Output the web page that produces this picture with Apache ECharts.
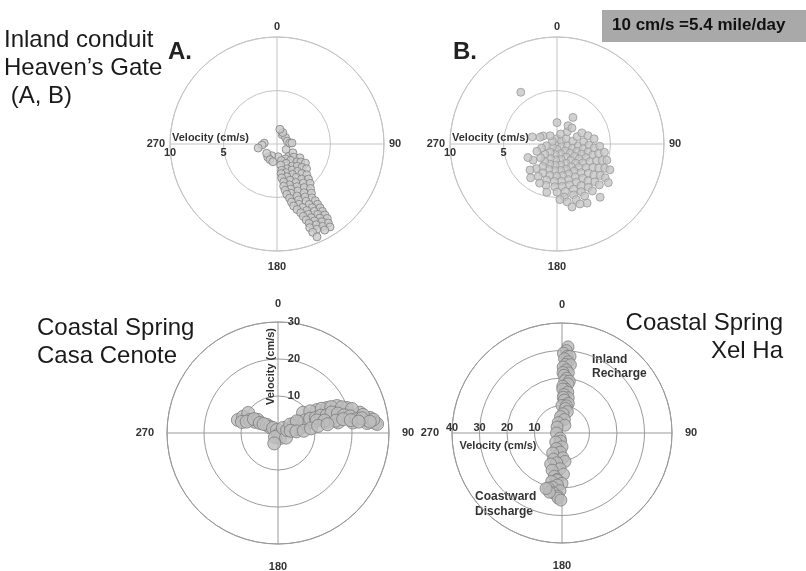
<!DOCTYPE html>
<html>
<head>
<meta charset="utf-8">
<script src="https://cdn.jsdelivr.net/npm/echarts@6/dist/echarts.min.js"></script>
<style>
  html, body { margin: 0; padding: 0; background: #fff; }
  #chart { width: 806px; height: 571px; }
</style>
</head>
<body>
<div id="chart"></div>
<script>
// [velocity cm/s, direction deg]
const heavensGateA = [
  [1.0, 29], [1.0, 53], [1.0, 75], [1.0, 121],
  [1.2, 27], [1.2, 86], [1.2, 175], [1.2, 274], [1.2, 204],
  [1.4, 11], [1.4, 86], [1.4, 266], [1.5, 215], [1.3, 228],
  [1.6, 204], [1.6, 135], [1.6, 150], [1.6, 165], [1.7, 193], [1.7, 119], [1.8, 258],
  [2.0, 128], [2.0, 140], [2.0, 155], [2.0, 170],
  [2.5, 121], [2.5, 132], [2.5, 145], [2.5, 158], [2.5, 170],
  [2.8, 127], [2.8, 138], [2.8, 150], [2.8, 163], [2.8, 172],
  [3.2, 124], [3.2, 133], [3.2, 143], [3.2, 153], [3.2, 163], [3.2, 172],
  [3.6, 130], [3.6, 140], [3.6, 150], [3.6, 160], [3.6, 170],
  [4.0, 136], [4.0, 145], [4.0, 154], [4.0, 163], [4.0, 171],
  [4.4, 138], [4.4, 146], [4.4, 155], [4.4, 163], [4.4, 170],
  [4.8, 140], [4.8, 148], [4.8, 156], [4.8, 164], [4.8, 169],
  [5.2, 143], [5.2, 151], [5.2, 159], [5.2, 167],
  [5.6, 145], [5.6, 152], [5.6, 159], [5.6, 166],
  [6.0, 147], [6.0, 153], [6.0, 160], [6.0, 165],
  [6.4, 146], [6.4, 152], [6.4, 158], [6.4, 163],
  [6.8, 146], [6.8, 151], [6.8, 156], [6.8, 161],
  [7.2, 146], [7.2, 151], [7.2, 156], [7.2, 160],
  [7.6, 146], [7.6, 150], [7.6, 155], [7.6, 159],
  [8.0, 146], [8.0, 150], [8.0, 154], [8.0, 158],
  [8.4, 146], [8.4, 150], [8.4, 154], [8.4, 158.6],
  [8.8, 147], [8.8, 151], [8.8, 155], [8.9, 158],
  [9.2, 147.4], [9.2, 151], [9.45, 156.7]
];

const heavensGateB = [
  [0.5, 0], [0.5, 60], [0.5, 120], [0.5, 180], [0.5, 240], [0.5, 300],
  [1.0, 20], [1.0, 60], [1.0, 100], [1.0, 130], [1.0, 160], [1.0, 190], [1.0, 220], [1.0, 260], [1.0, 320],
  [1.5, 40], [1.5, 80], [1.5, 105], [1.5, 125], [1.5, 145], [1.5, 165], [1.5, 185], [1.5, 205], [1.5, 230], [1.5, 255], [1.5, 300],
  [2.0, 0], [2.0, 31], [2.05, 43], [2.0, 70], [2.0, 95], [2.0, 110], [2.0, 125], [2.0, 140], [2.0, 155], [2.0, 170],
  [2.0, 185], [2.0, 200], [2.0, 215], [2.0, 230], [2.0, 250], [1.7, 292],
  [2.55, 66], [2.5, 85], [2.5, 100], [2.5, 112], [2.5, 124], [2.5, 136], [2.5, 148], [2.5, 160], [2.5, 172],
  [2.5, 185], [2.5, 198], [2.5, 212], [2.7, 236], [2.4, 286],
  [2.9, 31], [3.0, 75], [3.0, 92], [3.0, 104], [3.0, 115], [3.0, 126], [3.0, 137], [3.0, 148], [3.0, 159],
  [3.0, 170], [3.0, 181], [3.0, 193], [3.0, 206], [3.0, 220], [3.0, 245],
  [3.5, 82], [3.5, 96], [3.5, 107], [3.5, 118], [3.5, 129], [3.5, 140], [3.5, 151], [3.5, 162], [3.5, 173],
  [3.5, 184], [3.5, 196], [3.5, 210], [3.5, 226],
  [4.0, 93], [4.0, 103], [4.0, 113], [4.0, 123], [4.0, 133], [4.0, 143], [4.0, 153], [4.0, 163], [4.0, 173],
  [4.0, 183], [4.0, 195], [4.0, 204], [4.0, 218],
  [4.5, 100], [4.5, 110], [4.5, 120], [4.5, 130], [4.5, 140], [4.5, 150], [4.5, 160], [4.5, 170], [4.5, 180], [4.6, 192],
  [4.9, 108], [5.0, 117], [5.0, 126], [5.0, 135], [5.0, 144], [5.0, 153], [5.0, 162], [5.0, 172], [5.2, 177],
  [5.5, 116], [5.5, 125], [5.5, 134], [5.5, 143], [5.5, 152], [5.5, 161], [5.5, 170],
  [6.0, 127], [6.4, 141], [6.2, 153], [6.0, 159], [6.05, 166.6],
  [5.9, 325]
];

const casaCenote = [
  [11.4, 288], [10.4, 295], [9.7, 304], [10.2, 287], [8.3, 295], [6.9, 296], [6.5, 303],
  [9.0, 290], [7.5, 300], [5.6, 299], [3.7, 306], [2.7, 307], [4.6, 302],
  [1.9, 315], [0.85, 342], [0.54, 180], [1.45, 158], [1.35, 217], [1.9, 45], [2.5, 120], [3.0, 200],
  [2.6, 72], [4.4, 68], [6.1, 77], [7.3, 68], [8.5, 72], [9.9, 73], [12.7, 74], [13.6, 77],
  [15.5, 74], [16.5, 80], [17.7, 71], [19.4, 74], [20.4, 82], [21.8, 78.5], [22.8, 76],
  [24.2, 83.6], [24.3, 81.7], [25.2, 80.7], [26.4, 84], [26.9, 84.8],
  [8.7, 51], [12.2, 59.5], [14.9, 63], [17.5, 65.4], [19.8, 70], [10.5, 56], [13.5, 61],
  [16.0, 64], [18.6, 68], [21.0, 72], [23.5, 78], [26.0, 82],
  [5.0, 60], [6.5, 62], [8.0, 65], [9.5, 66], [11.0, 68], [12.5, 68], [14.0, 70], [15.5, 69],
  [17.0, 72], [18.5, 75], [20.0, 77], [21.5, 80], [23.0, 80], [25.0, 83], [11.0, 72], [13.0, 75],
  [16.0, 78], [18.0, 78], [20.0, 80], [22.0, 82], [4.0, 55], [6.0, 58], [3.5, 80], [5.0, 85],
  [7.0, 85], [9.0, 82], [11.0, 80], [13.6, 80]
];

const xelHa = [
  [31.4, 4], [30, 3], [29, 1], [28, 4], [28, 6], [27, 2], [26, 5], [25, 3], [25, 7], [24, 1],
  [23, 4], [22, 6], [22, 1], [21, 2], [20, 5], [19, 3], [19, 8], [18, 7], [17, 1], [16, 5],
  [16, 1], [15, 8], [14, 3], [13, 10], [13, 2], [12, 4], [11, 12], [10, 0], [10, 9], [9, 8],
  [8, 14], [7, 3], [6, 355], [5, 10], [4, 340], [3, 20], [2.8, 320], [2, 270],
  [2, 200], [3, 190], [4, 215], [5, 180], [6, 200], [7, 185], [8, 205], [9, 178], [10, 198],
  [10.4, 174], [11, 190], [12, 200], [13, 183], [14, 195], [15, 178], [16, 190], [17, 186],
  [17.2, 186], [18, 192], [18.3, 180], [19, 185], [20, 190], [20.6, 194], [21, 182], [22, 188],
  [23, 184], [23.7, 183.5], [24.4, 181], [22, 192], [21, 196]
];

const angleTicks = [0, 90, 180, 270];
const velMaxA = 10, velMaxC = 30, velMaxD = 40;

// panels drawn with 270 on the left: shift angles so the axis starts at 270
const wrap = a => (a < 270 ? a + 360 : a);
const shifted = arr => arr.map(d => [d[0], wrap(d[1])]);

const FONT = '"Liberation Sans", Arial, sans-serif';
const lightGrid = '#c4c4c4';
const darkGrid = '#9a9a9a';
const labelStyle = { color: '#333', fontSize: 11, fontWeight: 'bold', fontFamily: FONT };

function angleAxis(idx, startLeft, gridColor, margin, bottomPad) {
  return {
    polarIndex: idx,
    type: 'value',
    startAngle: startLeft ? 180 : 90,
    clockwise: true,
    min: startLeft ? 270 : 0,
    max: startLeft ? 630 : 360,
    interval: 90,
    axisLine: { lineStyle: { color: gridColor, width: 1 } },
    axisTick: { show: false },
    axisLabel: Object.assign({
      margin: margin,
      formatter: v => {
        const a = v % 360;
        return a === angleTicks[2] ? '{low|' + a + '}' : String(a);
      },
      rich: { low: Object.assign({ padding: [bottomPad, 0, 0, 0] }, labelStyle) }
    }, labelStyle),
    splitLine: { show: true, lineStyle: { color: gridColor, width: 1 } }
  };
}

function radiusAxis(idx, max, interval, gridColor, label, name) {
  return {
    polarIndex: idx,
    type: 'value',
    min: 0,
    max: max,
    interval: interval,
    axisLine: { show: false },
    axisTick: { show: false },
    axisLabel: Object.assign({}, labelStyle, label),
    splitLine: { show: true, lineStyle: { color: gridColor, width: 1 } },
    name: 'Velocity (cm/s)',
    nameLocation: 'middle',
    nameGap: name.gap,
    nameRotate: name.rotate,
    nameMoveOverlap: false,
    nameTextStyle: Object.assign({}, labelStyle, { padding: name.padding })
  };
}

function scatter(idx, data, size, fill, border) {
  return {
    type: 'scatter',
    coordinateSystem: 'polar',
    polarIndex: idx,
    symbol: 'circle',
    symbolSize: size,
    data: data,
    silent: true,
    itemStyle: { color: fill, borderColor: border, borderWidth: 1 }
  };
}

const chart = echarts.init(document.getElementById('chart'));
chart.setOption({
  backgroundColor: '#fff',
  animation: false,
  polar: [
    { center: [277, 144], radius: 107 },
    { center: [557, 144], radius: 107 },
    { center: [278, 433], radius: 111 },
    { center: [562, 433], radius: 110 }
  ],
  angleAxis: [
    angleAxis(0, true, lightGrid, 5, 5),
    angleAxis(1, true, lightGrid, 5, 5),
    angleAxis(2, false, darkGrid, 13, 4),
    angleAxis(3, true, darkGrid, 13, 4)
  ],
  radiusAxis: [
    radiusAxis(0, velMaxA, 5, lightGrid, { showMinLabel: false, margin: 3 }, { gap: 1, rotate: 0, padding: [0, 26, 0, 0] }),
    radiusAxis(1, velMaxA, 5, lightGrid, { showMinLabel: false, margin: 3 }, { gap: 1, rotate: 0, padding: [0, 26, 0, 0] }),
    radiusAxis(2, velMaxC, 10, darkGrid, { margin: -22 }, { gap: -13, rotate: 90, padding: [0, 0, 0, 22] }),
    radiusAxis(3, velMaxD, 10, darkGrid, { showMinLabel: false, margin: -11 }, { gap: -18, rotate: 0, padding: [0, 18, 0, 0] })
  ],
  series: [
    scatter(0, shifted(heavensGateA), 8, '#cbcbcb', '#808080'),
    scatter(1, shifted(heavensGateB), 8, '#c6c6c6', '#9a9a9a'),
    scatter(2, casaCenote, 13, '#bdbdbd', '#7c7c7c'),
    scatter(3, shifted(xelHa), 12, '#bababa', '#7e7e7e')
  ],
  graphic: [
    { type: 'text', left: 4, top: 26, style: { text: 'Inland conduit\nHeaven\u2019s Gate\n (A, B)', font: '24px ' + FONT, fill: '#1a1a1a', lineHeight: 28 } },
    { type: 'text', left: 168, top: 40, style: { text: 'A.', font: 'bold 24px ' + FONT, fill: '#222' } },
    { type: 'text', left: 453, top: 40, style: { text: 'B.', font: 'bold 24px ' + FONT, fill: '#222' } },
    { type: 'rect', left: 602, top: 10, shape: { width: 204, height: 32 }, style: { fill: '#a9a9a9' } },
    { type: 'text', left: 612, top: 17, style: { text: '10 cm/s =5.4 mile/day', font: 'bold 17px ' + FONT, fill: '#111' } },
    { type: 'text', left: 37, top: 314, style: { text: 'Coastal Spring\nCasa Cenote', font: '24px ' + FONT, fill: '#1a1a1a', lineHeight: 28 } },
    { type: 'text', right: 23, top: 309, style: { text: 'Coastal Spring', font: '24px ' + FONT, fill: '#1a1a1a', lineHeight: 28 } },
    { type: 'text', right: 23, top: 337, style: { text: 'Xel Ha', font: '24px ' + FONT, fill: '#1a1a1a', lineHeight: 28 } },
    { type: 'text', left: 592, top: 353, style: { text: 'Inland\nRecharge', font: 'bold 12px ' + FONT, fill: '#333', lineHeight: 14 } },
    { type: 'text', left: 475, top: 489, style: { text: 'Coastward\nDischarge', font: 'bold 12px ' + FONT, fill: '#333', lineHeight: 15 } }
  ]
});
</script>
</body>
</html>
